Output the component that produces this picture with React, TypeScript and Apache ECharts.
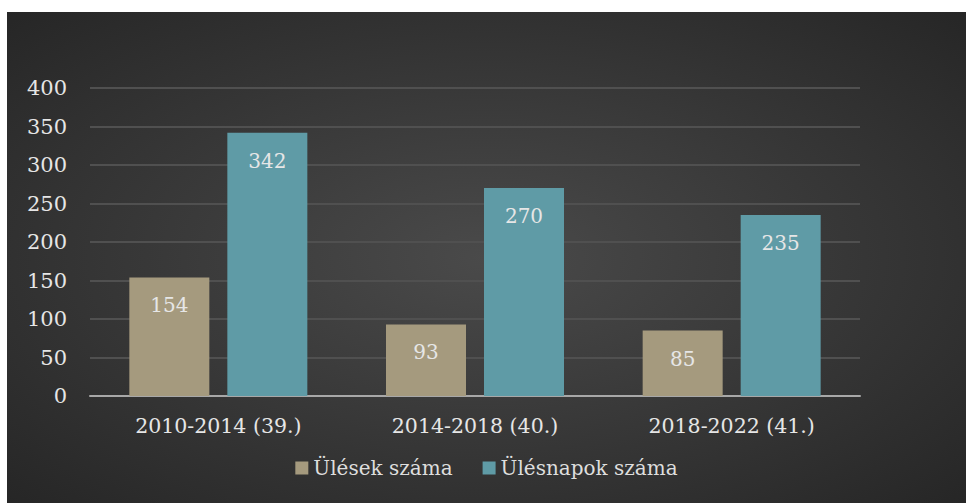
import React, { useEffect, useRef } from "react";
import * as echarts from "echarts";

const categories = ["2010-2014 (39.)", "2014-2018 (40.)", "2018-2022 (41.)"];
const ulesek = [154, 93, 85];
const ulesnapok = [342, 270, 235];
const seriesNames = ["Ülések száma", "Ülésnapok száma"];

const FONT = "DejaVu Serif";

export default function App() {
  const ref = useRef<HTMLDivElement>(null);
  useEffect(() => {
    const chart = echarts.init(ref.current!, null, { renderer: "svg" });
    const label = {
      show: true,
      position: "insideTop",
      distance: 18,
      color: "#e6e6e6",
      fontFamily: FONT,
      fontSize: 20,
    };
    chart.setOption({
      animation: false,
      backgroundColor: {
        type: "radial",
        x: 0.5,
        y: 0.5,
        r: 0.75,
        colorStops: [
          { offset: 0, color: "#4a4a4a" },
          { offset: 1, color: "#242424" },
        ],
      },
      textStyle: { fontFamily: FONT },
      grid: { left: 83, right: 106, top: 76, bottom: 107 },
      legend: {
        bottom: 20,
        left: "center",
        itemWidth: 13,
        itemHeight: 13,
        itemGap: 30,
        icon: "rect",
        textStyle: { color: "#dedede", fontFamily: FONT, fontSize: 20 },
        data: seriesNames,
      },
      xAxis: {
        type: "category",
        data: categories,
        axisLine: { lineStyle: { color: "#a8a8a8", width: 2 } },
        axisTick: { show: false },
        axisLabel: { color: "#e6e6e6", fontFamily: FONT, fontSize: 20.5, margin: 19 },
      },
      yAxis: {
        type: "value",
        min: 0,
        max: 400,
        interval: 50,
        axisLine: { show: false },
        axisTick: { show: false },
        splitLine: { lineStyle: { color: "#505050", width: 2 } },
        axisLabel: { color: "#e6e6e6", fontFamily: FONT, fontSize: 21, margin: 23 },
      },
      series: [
        {
          name: seriesNames[0],
          type: "bar",
          data: ulesek,
          barWidth: 80,
          barGap: "22.5%",
          itemStyle: { color: "#a59a7e" },
          label,
        },
        {
          name: seriesNames[1],
          type: "bar",
          data: ulesnapok,
          barWidth: 80,
          barGap: "22.5%",
          itemStyle: { color: "#5f9ba6" },
          label,
        },
      ],
    });
    return () => chart.dispose();
  }, []);
  return (
    <div
      ref={ref}
      style={{ position: "absolute", left: 7, top: 12, width: 959, height: 491 }}
    />
  );
}
